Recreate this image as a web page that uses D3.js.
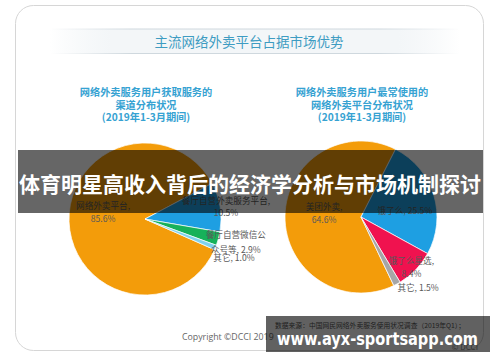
<!DOCTYPE html>
<html><head><meta charset="utf-8">
<script src="https://cdn.jsdelivr.net/npm/d3@7/dist/d3.min.js"></script>
<style>
html,body{margin:0;padding:0;background:#fff;}
svg{display:block;font-family:"Noto Sans CJK SC","Noto Sans",sans-serif;}
</style></head>
<body>
<svg id="chart" width="500" height="362"></svg>
<script>
// ---- data ----
const pageTitle = "主流网络外卖平台占据市场优势";
const leftTitle = ["网络外卖服务用户获取服务的", "渠道分布状况", "(2019年1-3月期间)"];
const rightTitle = ["网络外卖服务用户最常使用的", "网络外卖平台分布状况", "(2019年1-3月期间)"];
const leftCategories = ["网络外卖平台", "餐厅自营外卖服务平台", "餐厅自营微信公众号等", "其它"];
const leftValues = [85.6, 10.5, 2.9, 1.0];
const rightCategories = ["美团外卖", "饿了么", "饿了么星选", "其它"];
const rightValues = [64.6, 25.5, 8.4, 1.5];
const bannerText = "体育明星高收入背后的经济学分析与市场机制探讨";
const watermark = "www.ayx-sportsapp.com";
const copyright = "Copyright ©DCCI 2019";
const sourceText = "数据来源：中国网民网络外卖服务使用状况调查（2019年Q1）；";

// ---- styles ----
const leftColors = ["#F39C0A", "#1E9FE2", "#17B15A", "#7FD2EE"];
const rightColors = ["#F39C0A", "#1E9FE2", "#F0124F", "#A6A6A6"];

const svg = d3.select("#chart");
const defs = svg.append("defs");

// card
svg.append("rect").attr("x", 15.5).attr("y", 5.5).attr("width", 468).attr("height", 345)
  .attr("rx", 18).attr("fill", "#fff").attr("stroke", "#d6d6d6").attr("stroke-width", 1);

// title band
const g1 = defs.append("linearGradient").attr("id", "band").attr("x1", "0").attr("x2", "1");
g1.append("stop").attr("offset", "0").attr("stop-color", "#eef2f5").attr("stop-opacity", 0);
g1.append("stop").attr("offset", "0.15").attr("stop-color", "#f3f6f8").attr("stop-opacity", 1);
g1.append("stop").attr("offset", "0.85").attr("stop-color", "#f3f6f8").attr("stop-opacity", 1);
g1.append("stop").attr("offset", "1").attr("stop-color", "#eef2f5").attr("stop-opacity", 0);
const g2 = defs.append("linearGradient").attr("id", "bandline").attr("x1", "0").attr("x2", "1");
g2.append("stop").attr("offset", "0").attr("stop-color", "#cfd8de").attr("stop-opacity", 0);
g2.append("stop").attr("offset", "0.2").attr("stop-color", "#cfd8de").attr("stop-opacity", 1);
g2.append("stop").attr("offset", "0.8").attr("stop-color", "#cfd8de").attr("stop-opacity", 1);
g2.append("stop").attr("offset", "1").attr("stop-color", "#cfd8de").attr("stop-opacity", 0);
svg.append("rect").attr("x", 50).attr("y", 29).attr("width", 410).attr("height", 24).attr("fill", "url(#band)");
svg.append("rect").attr("x", 50).attr("y", 28.5).attr("width", 410).attr("height", 1).attr("fill", "url(#bandline)");
svg.append("rect").attr("x", 50).attr("y", 53).attr("width", 410).attr("height", 1).attr("fill", "url(#bandline)");
svg.append("text").attr("x", 249).attr("y", 47).attr("text-anchor", "middle")
  .attr("font-size", 13.5).attr("fill", "#3e9cc2").text(pageTitle);

function subtitle(lines, cx) {
  const t = svg.append("text").attr("text-anchor", "middle").attr("font-size", 10.2)
    .attr("font-weight", 700).attr("fill", "#36a2d2");
  lines.forEach((l, i) => t.append("tspan").attr("x", cx).attr("y", 96 + i * 12.5).text(l));
}
subtitle(leftTitle, 146);
subtitle(rightTitle, 362);

function drawPie(cats, vals, colors, cx, cy, r, firstOtherStartDeg, labels) {
  const total = d3.sum(vals);
  const rad = Math.PI / 180;
  const start = (firstOtherStartDeg - vals[0] / total * 360) * rad;
  const pie = d3.pie().sort(null).value(d => d).startAngle(start).endAngle(start + 2 * Math.PI);
  const arcs = pie(vals);
  const arc = d3.arc().innerRadius(0).outerRadius(r);
  const g = svg.append("g").attr("transform", `translate(${cx},${cy})`);
  g.selectAll("path").data(arcs).join("path")
    .attr("d", arc).attr("fill", (d, i) => colors[i])
    .attr("stroke", "#fff").attr("stroke-width", 0.7);
  arcs.forEach((a, i) => {
    const L = labels[i];
    const c = d3.arc().innerRadius(L.r).outerRadius(L.r).centroid(a);
    const t = g.append("text").attr("text-anchor", "middle").attr("font-size", 8.6).attr("fill", "#595959");
    const lines = L.lines(cats[i], vals[i]);
    const lh = L.lh || 13.5;
    const y0 = c[1] + L.dy - (lines.length - 1) * lh / 2 + 3;
    lines.forEach((l, k) => t.append("tspan").attr("x", c[0] + L.dx).attr("y", y0 + k * lh).text(l));
  });
}
const pct = v => v.toFixed(1) + "%";
drawPie(leftCategories, leftValues, leftColors, 145, 219, 76, 62, [
  {r: 42, dx: 0, dy: -8, lines: (c, v) => [c + ",", pct(v)]},
  {r: 82, dx: 0, dy: 1, lh: 12.5, lines: (c, v) => [c + ",", pct(v)]},
  {r: 94, dx: 0, dy: -1, lh: 15, lines: (c, v) => [c.slice(0, 7), c.slice(7) + ", " + pct(v)]},
  {r: 96, dx: 0, dy: 3, lines: (c, v) => [c + ", " + pct(v)]}
]);
drawPie(rightCategories, rightValues, rightColors, 361, 217, 76, 27, [
  {r: 37, dx: 0, dy: -3, lines: (c, v) => [c + ",", pct(v)]},
  {r: 46, dx: 0, dy: 8, lines: (c, v) => [c + ", " + pct(v)]},
  {r: 70, dx: 0, dy: 2, lh: 12.5, lines: (c, v) => [c + ",", pct(v)]},
  {r: 91, dx: 14, dy: -9, lines: (c, v) => [c + ", " + pct(v)]}
]);

// copyright + source
svg.append("text").attr("x", 182).attr("y", 340).attr("font-size", 8.8)
  .attr("font-family", "'Open Sans','Noto Sans',sans-serif").attr("fill", "#666").text(copyright);
svg.append("text").attr("x", 275).attr("y", 328).attr("font-size", 6.6).attr("fill", "#555")
  .attr("textLength", 190).attr("lengthAdjust", "spacingAndGlyphs").text(sourceText);
svg.append("text").attr("x", 478).attr("y", 350).attr("text-anchor", "end").attr("font-size", 8)
  .attr("fill", "#888").text("© DCCI");

// overlays
svg.append("rect").attr("x", 18).attr("y", 150).attr("width", 465).attr("height", 63)
  .attr("fill", "#000").attr("fill-opacity", 0.6);
svg.append("text").attr("x", 250).attr("y", 192).attr("text-anchor", "middle")
  .attr("font-size", 21).attr("font-weight", 700).attr("fill", "#fff")
  .attr("textLength", 462).attr("lengthAdjust", "spacingAndGlyphs").text(bannerText);

svg.append("rect").attr("x", 266).attr("y", 316).attr("width", 224).attr("height", 36)
  .attr("fill", "#000").attr("fill-opacity", 0.62);
svg.append("text").attr("x", 277).attr("y", 345).attr("font-size", 17).attr("font-weight", 700)
  .attr("font-family", "'DejaVu Sans',sans-serif").attr("fill", "#fff")
  .attr("textLength", 201).attr("lengthAdjust", "spacingAndGlyphs").text(watermark);
</script>
</body></html>
